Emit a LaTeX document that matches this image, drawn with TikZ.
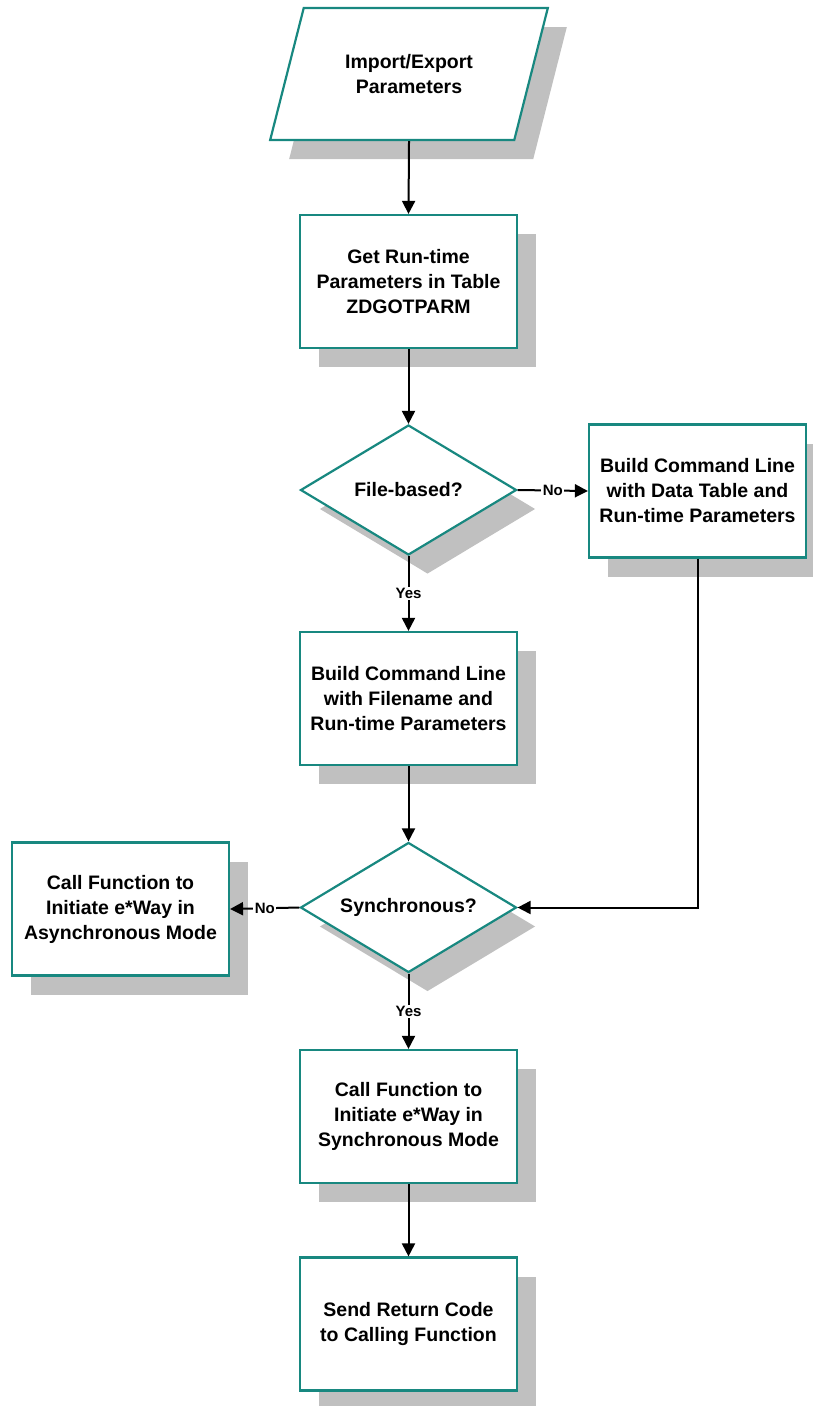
\documentclass[tikz,border=0pt]{standalone}
\usepackage{fontspec}
\setmainfont{Liberation Sans}
\usetikzlibrary{shapes.geometric,shadows,arrows.meta}
\definecolor{boxteal}{RGB}{24,136,128}
\definecolor{shadowgray}{RGB}{192,192,192}
\tikzset{
  boxshadow/.style={drop shadow={shadow xshift=19pt,shadow yshift=-19pt,fill=shadowgray,opacity=1}},
  boxtext/.style={align=center,font=\fontsize{19.5}{25}\selectfont\bfseries},
  proc/.style={draw=boxteal,line width=2.2pt,fill=white,boxshadow,boxtext,minimum width=217pt,minimum height=133pt,inner sep=2pt},
  dec/.style={diamond,aspect=1.66,draw=boxteal,line width=2.2pt,fill=white,boxshadow,boxtext,minimum width=216pt,minimum height=130pt,inner sep=0pt},
  iobox/.style={trapezium,trapezium left angle=65,trapezium right angle=115,trapezium stretches=true,draw=boxteal,line width=2.2pt,fill=white,boxshadow,boxtext,minimum width=278pt,minimum height=132pt},
  lbl/.style={fill=white,inner sep=1.5pt,font=\fontsize{15}{15}\selectfont\bfseries},
  flow/.style={line width=2pt,-{Triangle[length=13pt,width=13pt]}}
}
\begin{document}
\begin{tikzpicture}[x=1pt,y=-1pt]
\useasboundingbox (0,0) rectangle (812,1406);
% boxes
\node[iobox] (params) at (409,74) {Import/Export\\Parameters};
\node[proc] (get) at (408.5,281.5) {Get Run-time\\Parameters in Table\\ZDGOTPARM};
\node[dec] (filebased) at (408.5,490) {File-based?};
\node[proc] (cmddata) at (697.5,491) {Build Command Line\\with Data Table and\\Run-time Parameters};
\node[proc] (cmdfile) at (408.5,698.5) {Build Command Line\\with Filename and\\Run-time Parameters};
\node[dec] (synchq) at (408.5,907.5) {Synchronous?};
\node[proc] (async) at (120.5,909) {Call Function to\\Initiate e*Way in\\Asynchronous Mode};
\node[proc] (sync) at (408.5,1116.5) {Call Function to\\Initiate e*Way in\\Synchronous Mode};
\node[proc] (send) at (408.5,1324) {Send Return Code\\to Calling Function};
% connectors
\draw[flow] (params.south) -- (get.north);
\draw[flow] (get.south) -- (filebased.north);
\draw[flow] (filebased.east) -- node[lbl] {No} (cmddata.west);
\draw[flow] (filebased.south) -- node[lbl] {Yes} (cmdfile.north);
\draw[flow] (cmdfile.south) -- (synchq.north);
\draw[flow] (cmddata.south) |- (synchq.east);
\draw[flow] (synchq.west) -- node[lbl] {No} (async.east);
\draw[flow] (synchq.south) -- node[lbl] {Yes} (sync.north);
\draw[flow] (sync.south) -- (send.north);
\end{tikzpicture}
\end{document}
